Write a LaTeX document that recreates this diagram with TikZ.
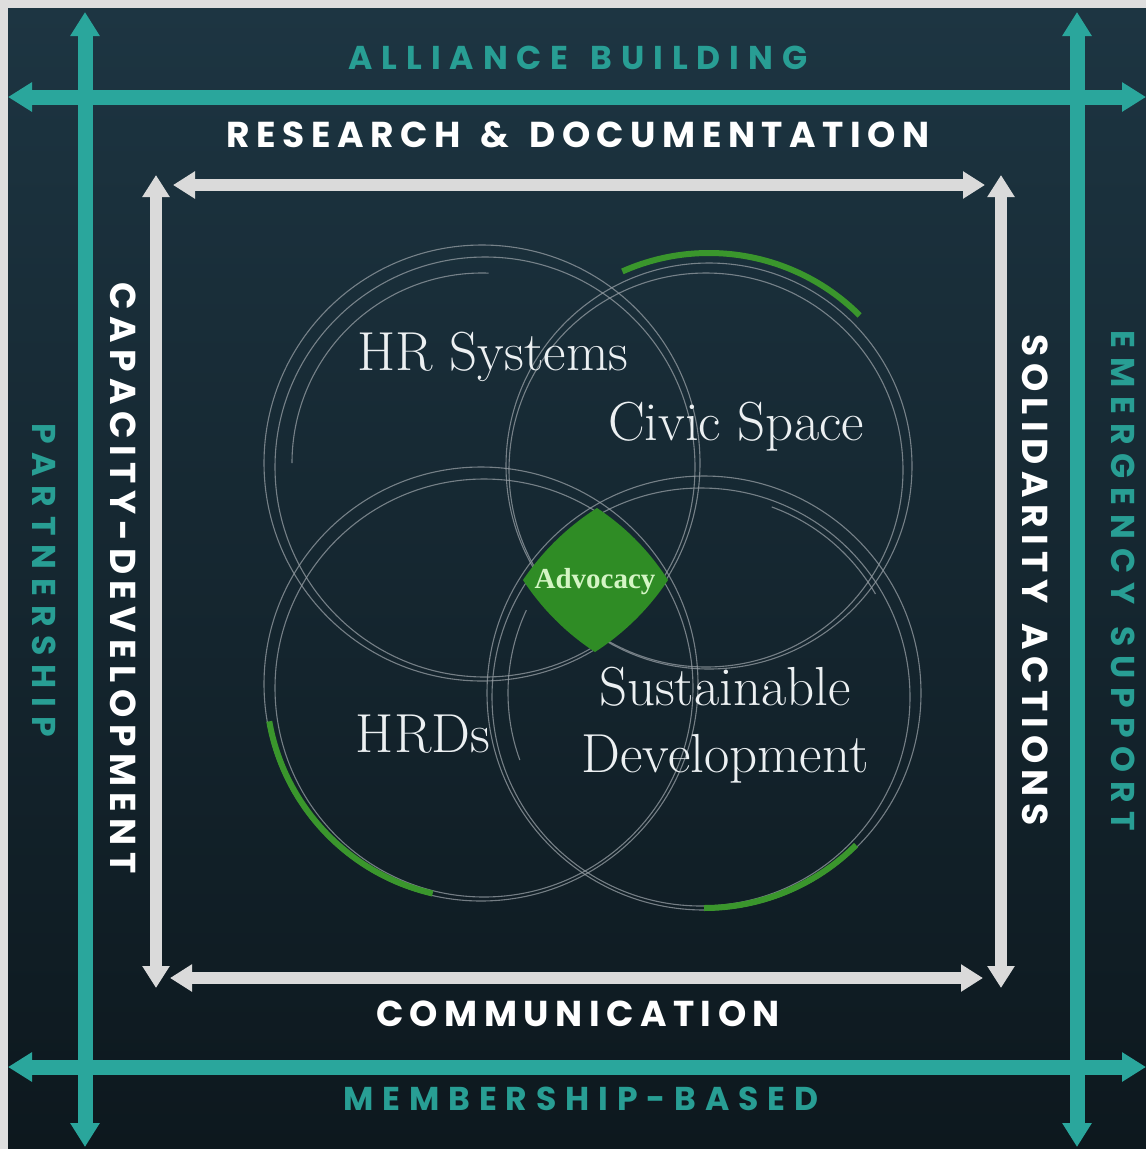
\documentclass[tikz,border=0pt]{standalone}
\usepackage{fontspec}
\usetikzlibrary{arrows.meta}
\newfontfamily\labfontw{Poppins}[LetterSpace=18]
\newfontfamily\labfontt{Poppins}[LetterSpace=27]
\newfontfamily\advfont{Liberation Serif}
\newcommand{\wsp}{\ \hspace{6pt}}
\definecolor{bordergray}{RGB}{222,222,222}
\definecolor{bgtop}{RGB}{29,53,66}
\definecolor{bgbot}{RGB}{13,24,30}
\definecolor{tealc}{RGB}{42,166,156}
\definecolor{tealtext}{RGB}{40,158,148}
\definecolor{arrowwhite}{RGB}{218,218,218}
\definecolor{ringgray}{RGB}{150,158,164}
\definecolor{greenarc}{RGB}{58,150,44}
\definecolor{diamondgreen}{RGB}{47,140,37}
\definecolor{advtext}{RGB}{212,245,196}
\definecolor{labwhite}{RGB}{236,240,242}
\begin{document}
\begin{tikzpicture}[x=1pt,y=-1pt,
  tealarrow/.style={draw=tealc, line width=15pt, {Triangle[width=28pt,length=24pt]}-{Triangle[width=28pt,length=24pt]}},
  whitearrow/.style={draw=arrowwhite, line width=12pt, {Triangle[width=26pt,length=22pt]}-{Triangle[width=26pt,length=22pt]}},
  ring/.style={draw=ringgray, line width=1.1pt, opacity=0.75},
  greenband/.style={draw=greenarc, line width=6pt},
  circlabel/.style={text=labwhite, font=\fontsize{55}{67}\selectfont, inner sep=0pt},
  framewhite/.style={text=white, font=\labfontw\bfseries\fontsize{36}{40}\selectfont, inner sep=0pt},
  frameteal/.style={text=tealtext, font=\labfontt\bfseries\fontsize{33}{36}\selectfont, inner sep=0pt},
]
\useasboundingbox (0,0) rectangle (1146,1149);
\fill[bordergray] (0,0) rectangle (1146,1149);
\shade[top color=bgtop, bottom color=bgbot] (8,8) rectangle (1146,1149);

% circle centres
\coordinate (c1) at (482,463);
\coordinate (c2) at (709,466);
\coordinate (c3) at (481,684);
\coordinate (c4) at (704,693);

% rings
\draw[ring] (c1) circle[radius=218];
\draw[ring] (485,467) circle[radius=210];
\draw[ring] (c1) ++(180:190) arc[start angle=180, end angle=272, radius=190];
\draw[ring] (c2) circle[radius=203];
\draw[ring] (706,470) circle[radius=197];
\draw[ring] (c3) circle[radius=217];
\draw[ring] (484,688) circle[radius=209];
\draw[ring] (c4) circle[radius=217];
\draw[ring] (701,697) circle[radius=209];
\draw[ring] (c4) ++(290:198) arc[start angle=290, end angle=330, radius=198];
\draw[ring] (c4) ++(160:196) arc[start angle=160, end angle=205, radius=196];

% green arcs
\draw[greenband] (c2) ++(-114:213) arc[start angle=-114, end angle=-45, radius=213];
\draw[greenband] (c3) ++(103:215) arc[start angle=103, end angle=170, radius=215];
\draw[greenband] (c4) ++(45:215) arc[start angle=45, end angle=90, radius=215];

% advocacy diamond
\fill[diamondgreen] (597,508) .. controls (625.7,527) and (649.3,551) .. (668,580)
  .. controls (648.7,609) and (624.3,633) .. (595,652)
  .. controls (566,633) and (542,609) .. (523,580)
  .. controls (542.7,551) and (567.3,527) .. (597,508) -- cycle;
\node[text=advtext, font=\advfont\bfseries\fontsize{29}{32}\selectfont, inner sep=0pt] (adv) at (595,582) {Advocacy};

% circle labels
\node[circlabel, anchor=base] (hrs) at (493,370) {HR Systems};
\node[circlabel, anchor=base] (civic) at (736,440) {Civic Space};
\node[circlabel, anchor=base] (hrds) at (423,752) {HRDs};
\node[circlabel, anchor=base, align=center] (sd) at (725,772) {Sustainable\\Development};

% frame labels
\node[frameteal] (alliance) at (578,58) {ALLIANCE\wsp BUILDING};
\node[framewhite] (research) at (578,135) {RESEARCH\wsp \&\wsp DOCUMENTATION};
\node[framewhite] (comm) at (578,1014) {COMMUNICATION};
\node[frameteal] (member) at (581,1099) {MEMBERSHIP-BASED};
\node[framewhite, rotate=-90] (capacity) at (123,578) {CAPACITY-DEVELOPMENT};
\node[frameteal, rotate=-90] (partner) at (44,580) {PARTNERSHIP};
\node[framewhite, rotate=-90] (solid) at (1035,580) {SOLIDARITY\wsp ACTIONS};
\node[frameteal, rotate=-90] (emerg) at (1123,581) {EMERGENCY\wsp SUPPORT};

% arrow end points
\coordinate (tl) at (8,97);   \coordinate (tr) at (1146,97);
\coordinate (bl) at (8,1067); \coordinate (br) at (1146,1067);
\coordinate (lt) at (85,12);  \coordinate (lb) at (85,1147);
\coordinate (rt) at (1077,12); \coordinate (rb) at (1077,1147);
\coordinate (wtl) at (173,185); \coordinate (wtr) at (985,185);
\coordinate (wbl) at (170,978); \coordinate (wbr) at (983,978);
\coordinate (wlt) at (156,175); \coordinate (wlb) at (156,988);
\coordinate (wrt) at (1001,175); \coordinate (wrb) at (1001,988);

% teal arrows
\draw[tealarrow] (tl) -- (tr);
\draw[tealarrow] (bl) -- (br);
\draw[tealarrow] (lt) -- (lb);
\draw[tealarrow] (rt) -- (rb);
% white arrows
\draw[whitearrow] (wtl) -- (wtr);
\draw[whitearrow] (wbl) -- (wbr);
\draw[whitearrow] (wlt) -- (wlb);
\draw[whitearrow] (wrt) -- (wrb);
\end{tikzpicture}
\end{document}
